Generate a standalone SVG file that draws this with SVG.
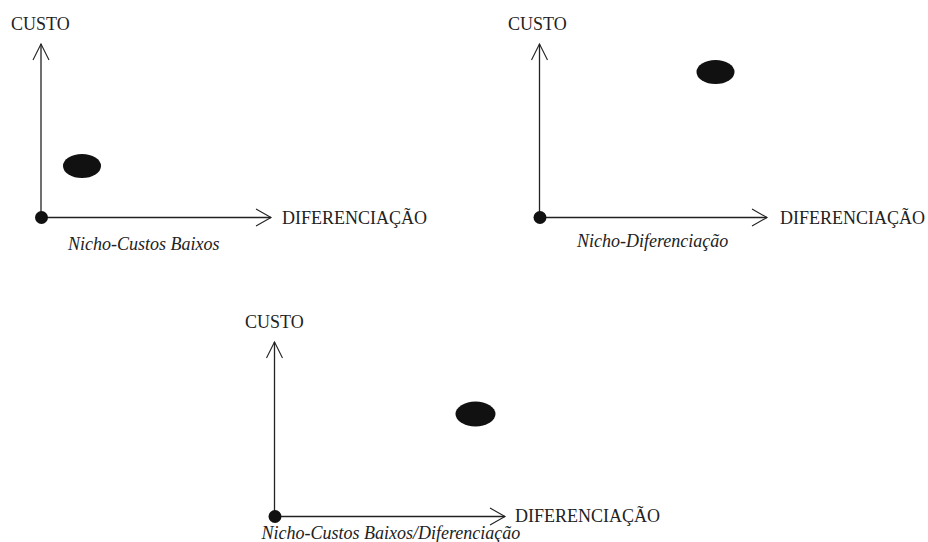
<svg xmlns="http://www.w3.org/2000/svg" width="928" height="542" viewBox="0 0 928 542">
  <style>
    .axis { stroke: #222; stroke-width: 1.3; fill: none; }
    .head { stroke: #222; stroke-width: 1.1; fill: none; }
    .origin { fill: #111; }
    .spot { fill: #111; }
    .lbl { font-family: "Liberation Serif", "Times New Roman", serif; font-size: 18px; fill: #222; }
    .cap { font-family: "Liberation Serif", "Times New Roman", serif; font-size: 18px; font-style: italic; fill: #222; }
  </style>

  <!-- Panel 1: low-cost niche -->
  <g id="panel-low-cost">
    <g id="axes-1">
      <line class="axis" x1="41" y1="217.5" x2="41" y2="44"/>
      <polyline class="head" points="33,60 41,44 49,60"/>
      <line class="axis" x1="41" y1="217.5" x2="271" y2="217.5"/>
      <polyline class="head" points="256,209 271,217.5 256,226"/>
    </g>
    <circle class="origin" cx="41.5" cy="217.5" r="6.5"/>
    <ellipse class="spot" cx="82" cy="166" rx="19" ry="12"/>
    <text class="lbl" x="11" y="30">CUSTO</text>
    <text class="lbl" x="282" y="223.5">DIFERENCIAÇÃO</text>
    <text class="cap" x="68" y="250">Nicho-Custos Baixos</text>
  </g>

  <!-- Panel 2: differentiation niche -->
  <g id="panel-differentiation">
    <g id="axes-2">
      <line class="axis" x1="539.5" y1="217.5" x2="539.5" y2="44"/>
      <polyline class="head" points="531.5,60 539.5,44 547.5,60"/>
      <line class="axis" x1="539.5" y1="217.5" x2="767" y2="217.5"/>
      <polyline class="head" points="752,209 767,217.5 752,226"/>
    </g>
    <circle class="origin" cx="540" cy="217.5" r="6.5"/>
    <ellipse class="spot" cx="715.5" cy="72" rx="19" ry="12"/>
    <text class="lbl" x="508" y="30">CUSTO</text>
    <text class="lbl" x="780" y="223.5">DIFERENCIAÇÃO</text>
    <text class="cap" x="577" y="247">Nicho-Diferenciação</text>
  </g>

  <!-- Panel 3: combined niche -->
  <g id="panel-combined">
    <g id="axes-3">
      <line class="axis" x1="274.5" y1="516.5" x2="274.5" y2="342"/>
      <polyline class="head" points="266.5,358 274.5,342 282.5,358"/>
      <line class="axis" x1="274.5" y1="516.5" x2="505" y2="516.5"/>
      <polyline class="head" points="490,508 505,516.5 490,525"/>
    </g>
    <circle class="origin" cx="275" cy="516.5" r="6.5"/>
    <ellipse class="spot" cx="475.5" cy="414" rx="20" ry="12.5"/>
    <text class="lbl" x="245" y="328">CUSTO</text>
    <text class="lbl" x="515" y="522">DIFERENCIAÇÃO</text>
    <text class="cap" x="261.5" y="538.5">Nicho-Custos Baixos/Diferenciação</text>
  </g>
</svg>
